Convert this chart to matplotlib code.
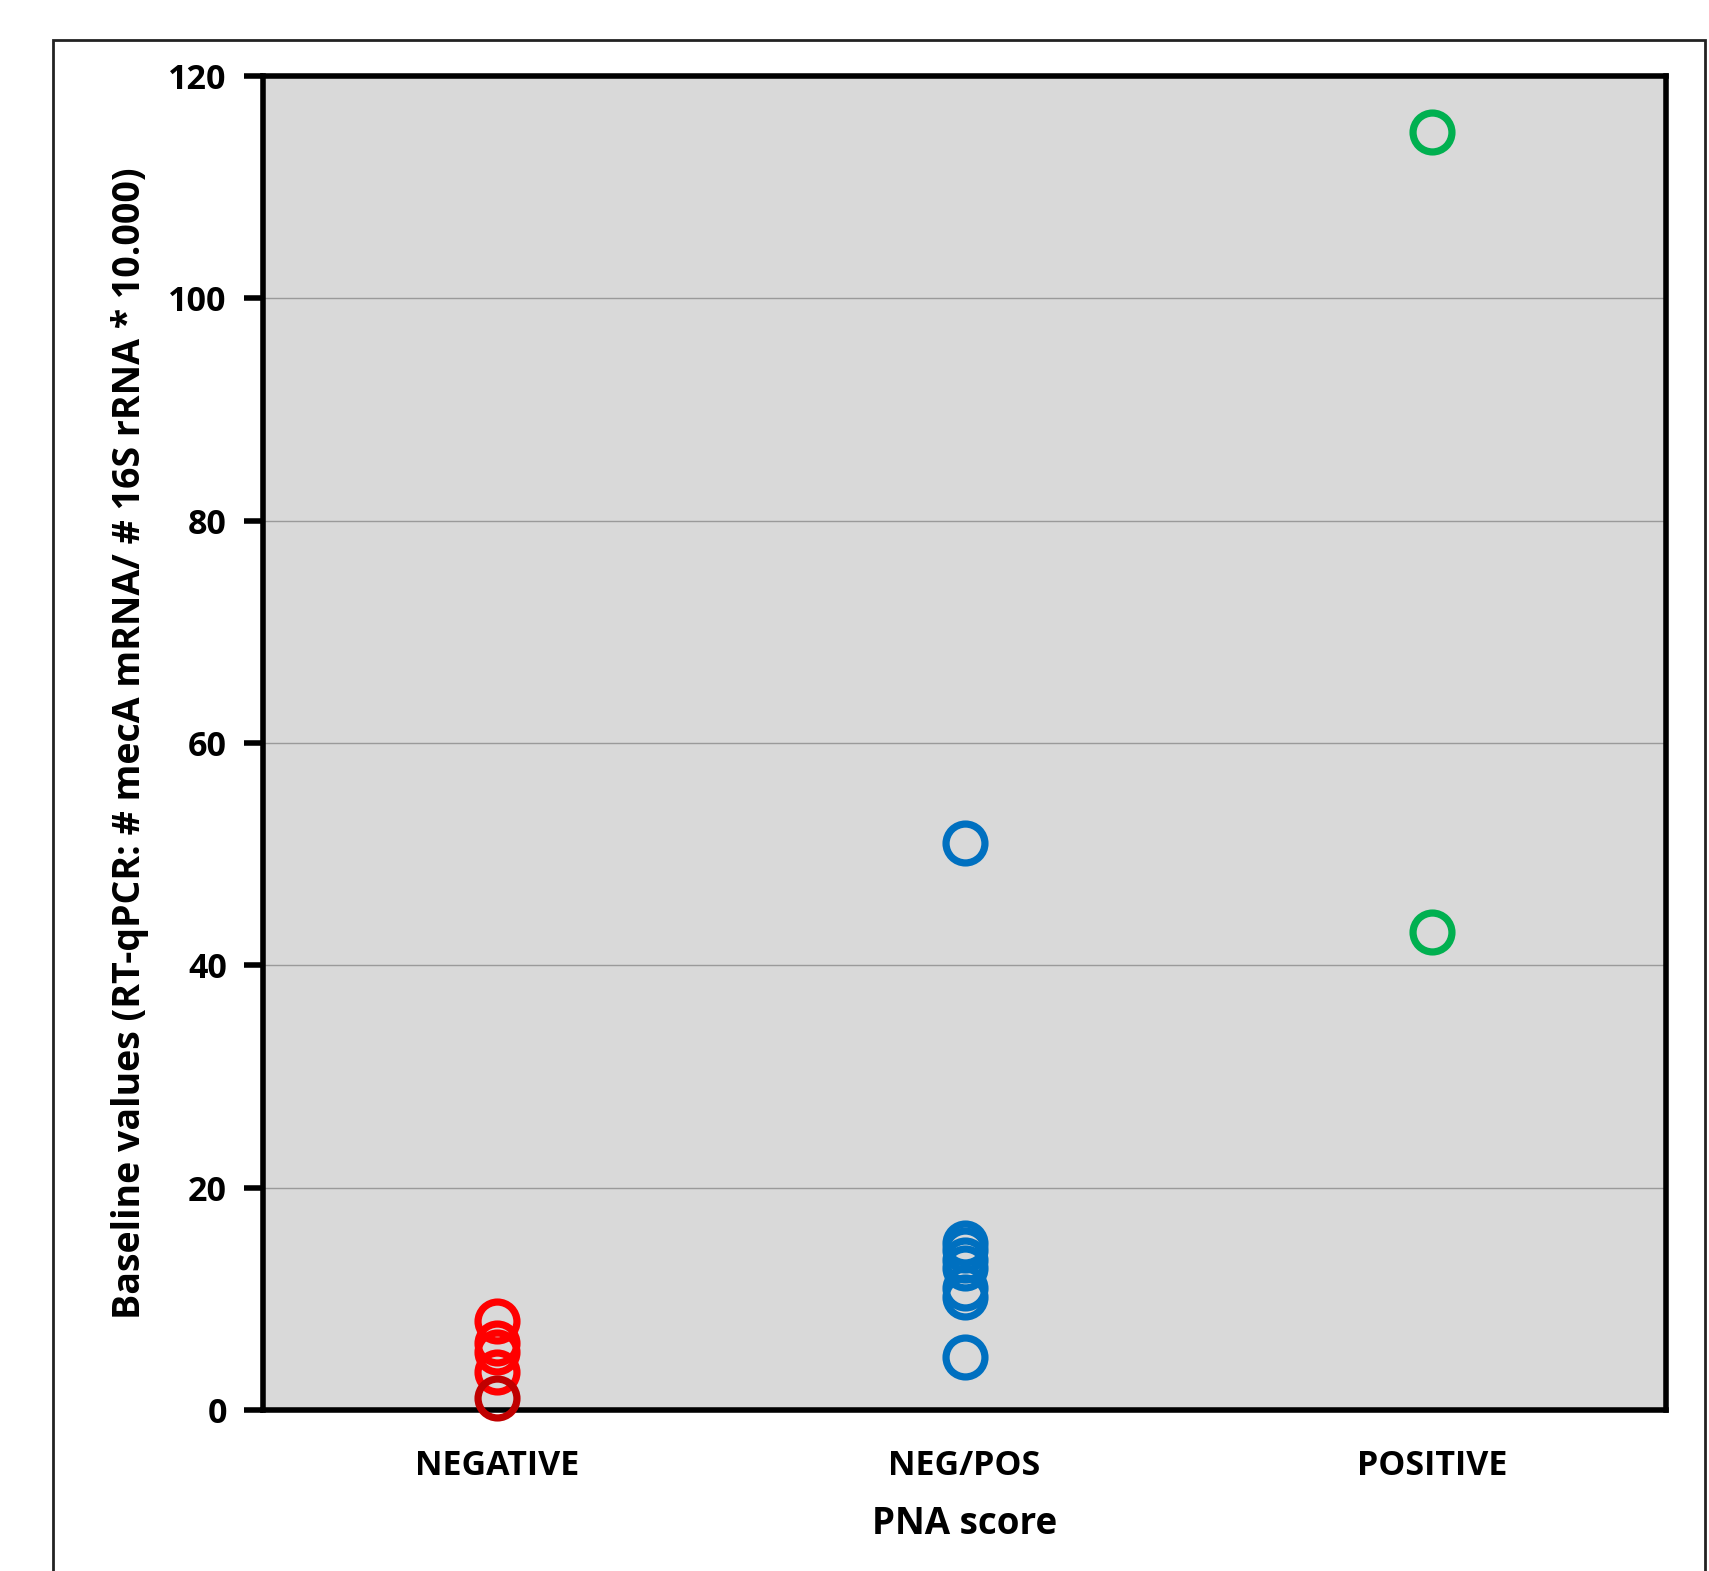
import matplotlib.pyplot as plt
from matplotlib.patches import Rectangle

categories = ['NEGATIVE', 'NEG/POS', 'POSITIVE']

# values per group
neg_values = [8, 6, 5.2, 3.4]
neg_dark_values = [1.1]
negpos_values = [51, 15, 14.4, 13.5, 12.8, 11, 10.2, 4.8]
pos_values = [115, 43]

yticks = [0, 20, 40, 60, 80, 100, 120]

plt.rcParams['font.family'] = ['Open Sans', 'DejaVu Sans']

fig = plt.figure(figsize=(17.09, 15.71), dpi=100)
ax = fig.add_axes([263 / 1709, 1 - 1410 / 1571, 1403 / 1709, 1334 / 1571])

# outer frame of the picture
fig.patches.append(Rectangle((53 / 1709, -0.05), (1705 - 53) / 1709, 1.05 - 40 / 1571,
                             transform=fig.transFigure, fill=False, edgecolor='#222222',
                             linewidth=2))

ax.set_facecolor('#D9D9D9')
mk = dict(linestyle='none', marker='o', markersize=28, markerfacecolor='none',
          markeredgewidth=5.2, zorder=3, clip_on=False)
ax.plot([1] * len(neg_values), neg_values, markeredgecolor='#FF0000', **mk)
ax.plot([1] * len(neg_dark_values), neg_dark_values, markeredgecolor='#C00000', **mk)
ax.plot([2] * len(negpos_values), negpos_values, markeredgecolor='#0070C0', **mk)
ax.plot([3] * len(pos_values), pos_values, markeredgecolor='#00B050', **mk)

ax.set_xlim(0.5, 3.5)
ax.set_ylim(0, 120)
ax.set_yticks(yticks)
ax.set_yticklabels([str(v) for v in yticks], fontsize=24.5, fontweight='bold')
ax.set_xticks([1, 2, 3])
ax.set_xticklabels(categories, fontsize=24.5, fontweight='bold')
ax.tick_params(axis='x', length=0, pad=28)
ax.tick_params(axis='y', length=14, width=4, pad=12, direction='out')
ax.yaxis.grid(True, color='#9A9A9A', linewidth=1)
ax.set_axisbelow(True)

for s in ax.spines.values():
    s.set_linewidth(4)
    s.set_color('black')

ax.set_xlabel('PNA score', fontsize=26.5, fontweight='bold', labelpad=16)
ax.set_ylabel('Baseline values (RT-qPCR: # mecA mRNA/ # 16S rRNA * 10.000)',
              fontsize=27, fontweight='bold', labelpad=14)

fig.savefig('out.png', dpi=100)
